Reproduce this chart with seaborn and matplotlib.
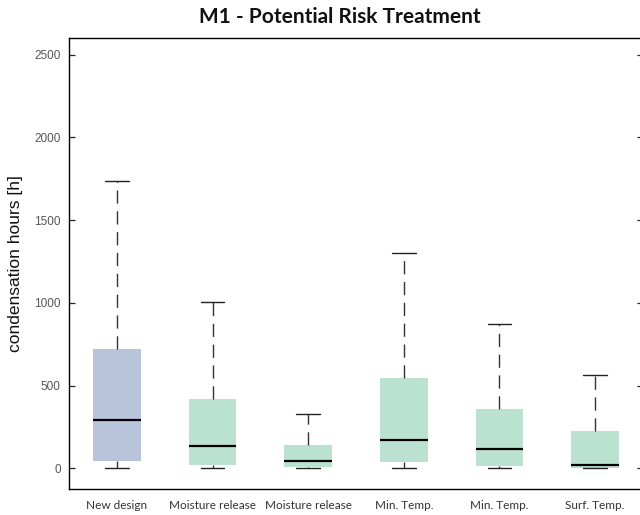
import numpy as np
import pandas as pd
import matplotlib
matplotlib.use("Agg")
import matplotlib.pyplot as plt
import seaborn as sns

# Box statistics for each treatment (condensation hours)
labels = ["New design", "Moisture release", "Moisture release",
          "Min. Temp.", "Min. Temp.", "Surf. Temp."]
whisker_low = [0, 0, 0, 0, 0, 0]
q1 = [44, 20, 8, 40, 14, 0]
median = [290, 133, 44, 173, 119, 20]
q3 = [718, 417, 139, 545, 356, 223]
whisker_high = [1735, 1004, 328, 1302, 870, 562]
box_colors = ["#B8C4DC", "#BBE2D1", "#BBE2D1", "#BBE2D1", "#BBE2D1", "#BBE2D1"]

# Five summary points per box reproduce the quartiles exactly
rows = []
for i in range(len(labels)):
    for v in (whisker_low[i], q1[i], median[i], q3[i], whisker_high[i]):
        rows.append({"case": str(i), "hours": v})
df = pd.DataFrame(rows)

sns.set_style("white")
fig = plt.figure(figsize=(6.4, 5.15), dpi=100)
ax = fig.add_axes([69 / 640, 26 / 515, (643 - 69) / 640, (489 - 38) / 515])

sns.boxplot(
    data=df, x="case", y="hours", hue="case",
    palette=box_colors, saturation=1, legend=False, ax=ax,
    whis=(0, 100), width=0.5, showfliers=False,
    linewidth=0,
    boxprops=dict(linewidth=0),
    medianprops=dict(color="black", linewidth=1.6),
    whiskerprops=dict(color="#333333", linewidth=1.0, linestyle=(0, (9.5, 5.5))),
    capprops=dict(color="#222222", linewidth=1.0),
)

ax.set_xlim(-0.5, 5.5)
ax.set_ylim(-125, 2600)
ax.set_yticks([0, 500, 1000, 1500, 2000, 2500])
ax.set_xticks(range(len(labels)))
ax.set_xticklabels(labels, fontfamily="Lato", fontsize=8.5, color="#333333")
for t in ax.get_yticklabels():
    t.set_fontfamily("Liberation Sans")
    t.set_fontsize(8.5)
    t.set_color("#555555")
ax.tick_params(axis="y", direction="in", length=4.5, width=0.9, color="#222222",
               left=True, right=True, pad=6)
ax.tick_params(axis="x", length=0, pad=8)
ax.set_xlabel("")
ax.set_ylabel("condensation hours [h]", fontfamily="Liberation Sans",
              fontsize=12.5, color="#111111", labelpad=8)
for side in ("left", "bottom", "top", "right"):
    ax.spines[side].set_visible(True)
    ax.spines[side].set_color("black")
    ax.spines[side].set_linewidth(1.0)

fig.text(340 / 640, 1 - 17 / 515, "M1 - Potential Risk Treatment",
         ha="center", va="center", fontfamily="Lato", fontweight="bold",
         fontsize=15, color="#111111")

fig.savefig("out.png", dpi=100)
